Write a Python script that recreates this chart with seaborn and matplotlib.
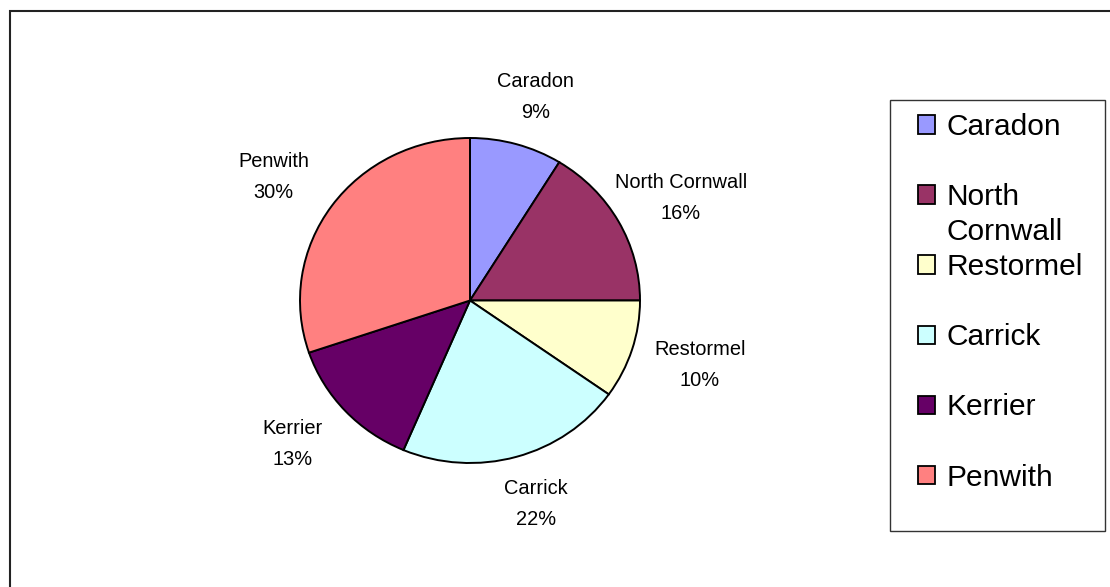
import numpy as np
import matplotlib
matplotlib.use("Agg")
import matplotlib.pyplot as plt
import matplotlib.patches as mpatches
import seaborn as sns

# ---- data ----
districts = ["Caradon", "North Cornwall", "Restormel", "Carrick", "Kerrier", "Penwith"]
shares = [8.8, 16.2, 9.8, 21.6, 13.4, 30.2]
colors = ["#9999FF", "#993366", "#FFFFCC", "#CCFFFF", "#660066", "#FF8080"]

sns.set_theme(style="white")
plt.rcParams["font.family"] = ["Liberation Sans", "DejaVu Sans"]
plt.rcParams["text.color"] = "black"

W, H = 1110, 587
fig = plt.figure(figsize=(W / 100, H / 100), dpi=100)
fig.patch.set_facecolor("white")

def fx(px):
    return px / W

def fy(py):
    return 1 - py / H

# outer chart-area border
fig.add_artist(mpatches.Rectangle((fx(9.5), fy(700)), fx(1200), (700 - 10.5) / H,
                                  transform=fig.transFigure, fill=False,
                                  edgecolor="#222222", linewidth=1.5))

# pie axes (slightly elliptical as in the reference)
ax = fig.add_axes([fx(300), fy(463), fx(340), (463 - 138) / H])
wedges, _ = ax.pie(shares, colors=colors, startangle=90, counterclock=False,
                   wedgeprops=dict(edgecolor="black", linewidth=1.4))
ax.set_aspect("auto")
ax.set_xlim(-1, 1)
ax.set_ylim(-1, 1)
ax.axis("off")

# data labels
total = sum(shares)
for w, name, v in zip(wedges, districts, shares):
    mid = np.deg2rad((w.theta1 + w.theta2) / 2)
    rx, ry = 1.42, 1.30
    ax.text(rx * np.cos(mid), ry * np.sin(mid), f"{name}\n{round(100 * v / total)}%",
            ha="center", va="center", fontsize=14.4, linespacing=1.8, color="black")

# legend
leg_labels = ["North" if d == "North Cornwall" else d for d in districts]
handles = [mpatches.Patch(facecolor=c, edgecolor="black", linewidth=1.3) for c in colors]
leg = ax.legend(handles, leg_labels, loc="upper left",
                bbox_to_anchor=(fx(918), fy(113)), bbox_transform=fig.transFigure,
                frameon=False, fontsize=21.5, borderpad=0, borderaxespad=0,
                handlelength=0.57, handleheight=0.57, handletextpad=0.37,
                labelspacing=1.41, labelcolor="black")
nc_text = leg.get_texts()[1]
ax.annotate("Cornwall", xy=(0, 0.5), xycoords=nc_text, xytext=(0, -35),
            textcoords="offset pixels", ha="left", va="center", color="black",
            fontsize=21.5, zorder=10, annotation_clip=False)

# legend box
fig.add_artist(mpatches.Rectangle((fx(890), fy(531)), fx(215), (531 - 100) / H,
                                  transform=fig.transFigure, fill=False,
                                  edgecolor="#333333", linewidth=1.0))

fig.savefig("out.png", dpi=100)
